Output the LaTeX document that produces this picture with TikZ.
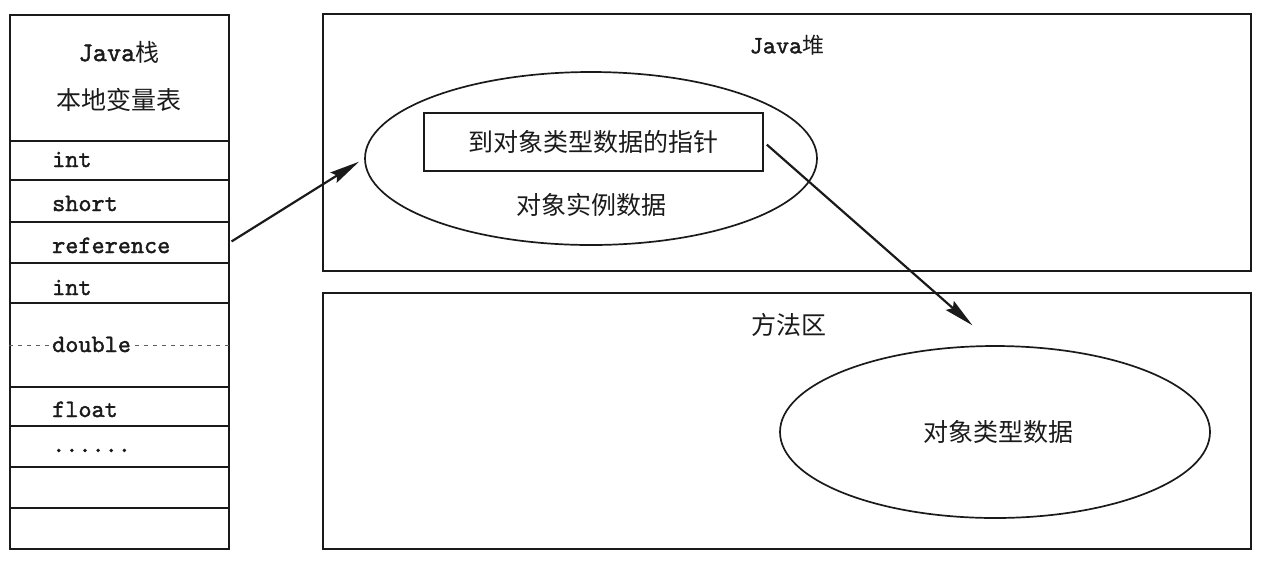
\documentclass[tikz,border=0pt]{standalone}
\usepackage{fontspec}
\newfontfamily\codefont{lmmono10-regular.otf}[FakeBold=1.6]
\newfontfamily\cjk{Noto Sans CJK SC}
\usetikzlibrary{arrows.meta,shapes.geometric}
\definecolor{ink}{HTML}{1A1A1A}
\tikzset{
  box/.style={draw=ink, line width=1.7pt, rectangle, inner sep=0pt},
  row/.style={box, minimum width=219pt},
  mono/.style={font=\codefont\fontsize{25}{27}\selectfont, text=ink, inner sep=0pt},
  cn/.style={font=\cjk\fontsize{25}{28}\selectfont, text=ink, inner sep=0pt},
  oval/.style={draw=ink, line width=1.7pt, ellipse, inner sep=0pt},
  link/.style={draw=ink, line width=2.2pt, -{Stealth[length=30pt,width=12pt,inset=4pt]}},
}
\begin{document}
\begin{tikzpicture}[x=1pt,y=-1pt]
\useasboundingbox (0,0) rectangle (1264,566);
% ---- Java stack ----
\node[row, minimum height=126pt] (hdr) at (119.5,78) {};
\node[row, minimum height=39pt] (r1) at (119.5,160.5) {};
\node[row, minimum height=42pt] (r2) at (119.5,201) {};
\node[row, minimum height=41pt] (rref) at (119.5,242.5) {};
\node[row, minimum height=40pt] (r4) at (119.5,283) {};
\node[row, minimum height=84pt] (r5) at (119.5,345) {};
\node[row, minimum height=39pt] (r6) at (119.5,406.5) {};
\node[row, minimum height=41pt] (r7) at (119.5,446.5) {};
\node[row, minimum height=41pt] (r8) at (119.5,487.5) {};
\node[row, minimum height=41pt] (r9) at (119.5,528.5) {};
\draw[ink!70, line width=0.8pt, dash pattern=on 4pt off 5pt] (r5.west) -- (r5.east);
\node[inner sep=0pt] (t0) at (119,52) {\codefont\fontsize{27}{29}\selectfont\color{ink}Java\cjk\fontsize{24}{26}\selectfont 栈};
\node[cn] (t00) at (119,100) {本地变量表};
\node[mono, anchor=base west] (l1) at (52,167) {int};
\node[mono, anchor=base west] (l2) at (52,211) {short};
\node[mono, anchor=base west] (l3) at (52,253) {reference};
\node[mono, anchor=base west] (l4) at (52,295) {int};
\node[mono, anchor=base west, fill=white, inner xsep=1pt] (l5) at (51,352) {double};
\node[mono, anchor=base west] (l6) at (52,417) {float};
\node[mono, anchor=base west] (l7) at (52,452) {......};
% ---- Java heap ----
\node[box, minimum width=928pt, minimum height=257pt] (heap) at (787,142.5) {};
\node[inner sep=0pt] (heapt) at (787,45) {\codefont\fontsize{25}{27}\selectfont\color{ink}Java\cjk\fontsize{22}{24}\selectfont 堆};
\node[oval, minimum width=452pt, minimum height=173pt] (ell1) at (591,158.5) {};
\node[box, minimum width=339pt, minimum height=58pt] (ptr) at (593.5,142) {};
\node[cn] (ptrt) at (593,142) {到对象类型数据的指针};
\node[cn] (inst) at (591,205) {对象实例数据};
% ---- Method area ----
\node[box, minimum width=928pt, minimum height=256pt] (meth) at (787,421) {};
\node[cn] (metht) at (789,325) {方法区};
\node[oval, minimum width=430pt, minimum height=172pt] (ell2) at (995,432) {};
\node[cn] (typet) at (998,432) {对象类型数据};
% ---- connectors ----
\draw[link, shorten >=6pt, shorten <=2pt] (rref.east) -- (ell1.west);
\draw[link, shorten >=30pt, shorten <=4pt] (ptr.east) -- (ell2.north);
\end{tikzpicture}
\end{document}
